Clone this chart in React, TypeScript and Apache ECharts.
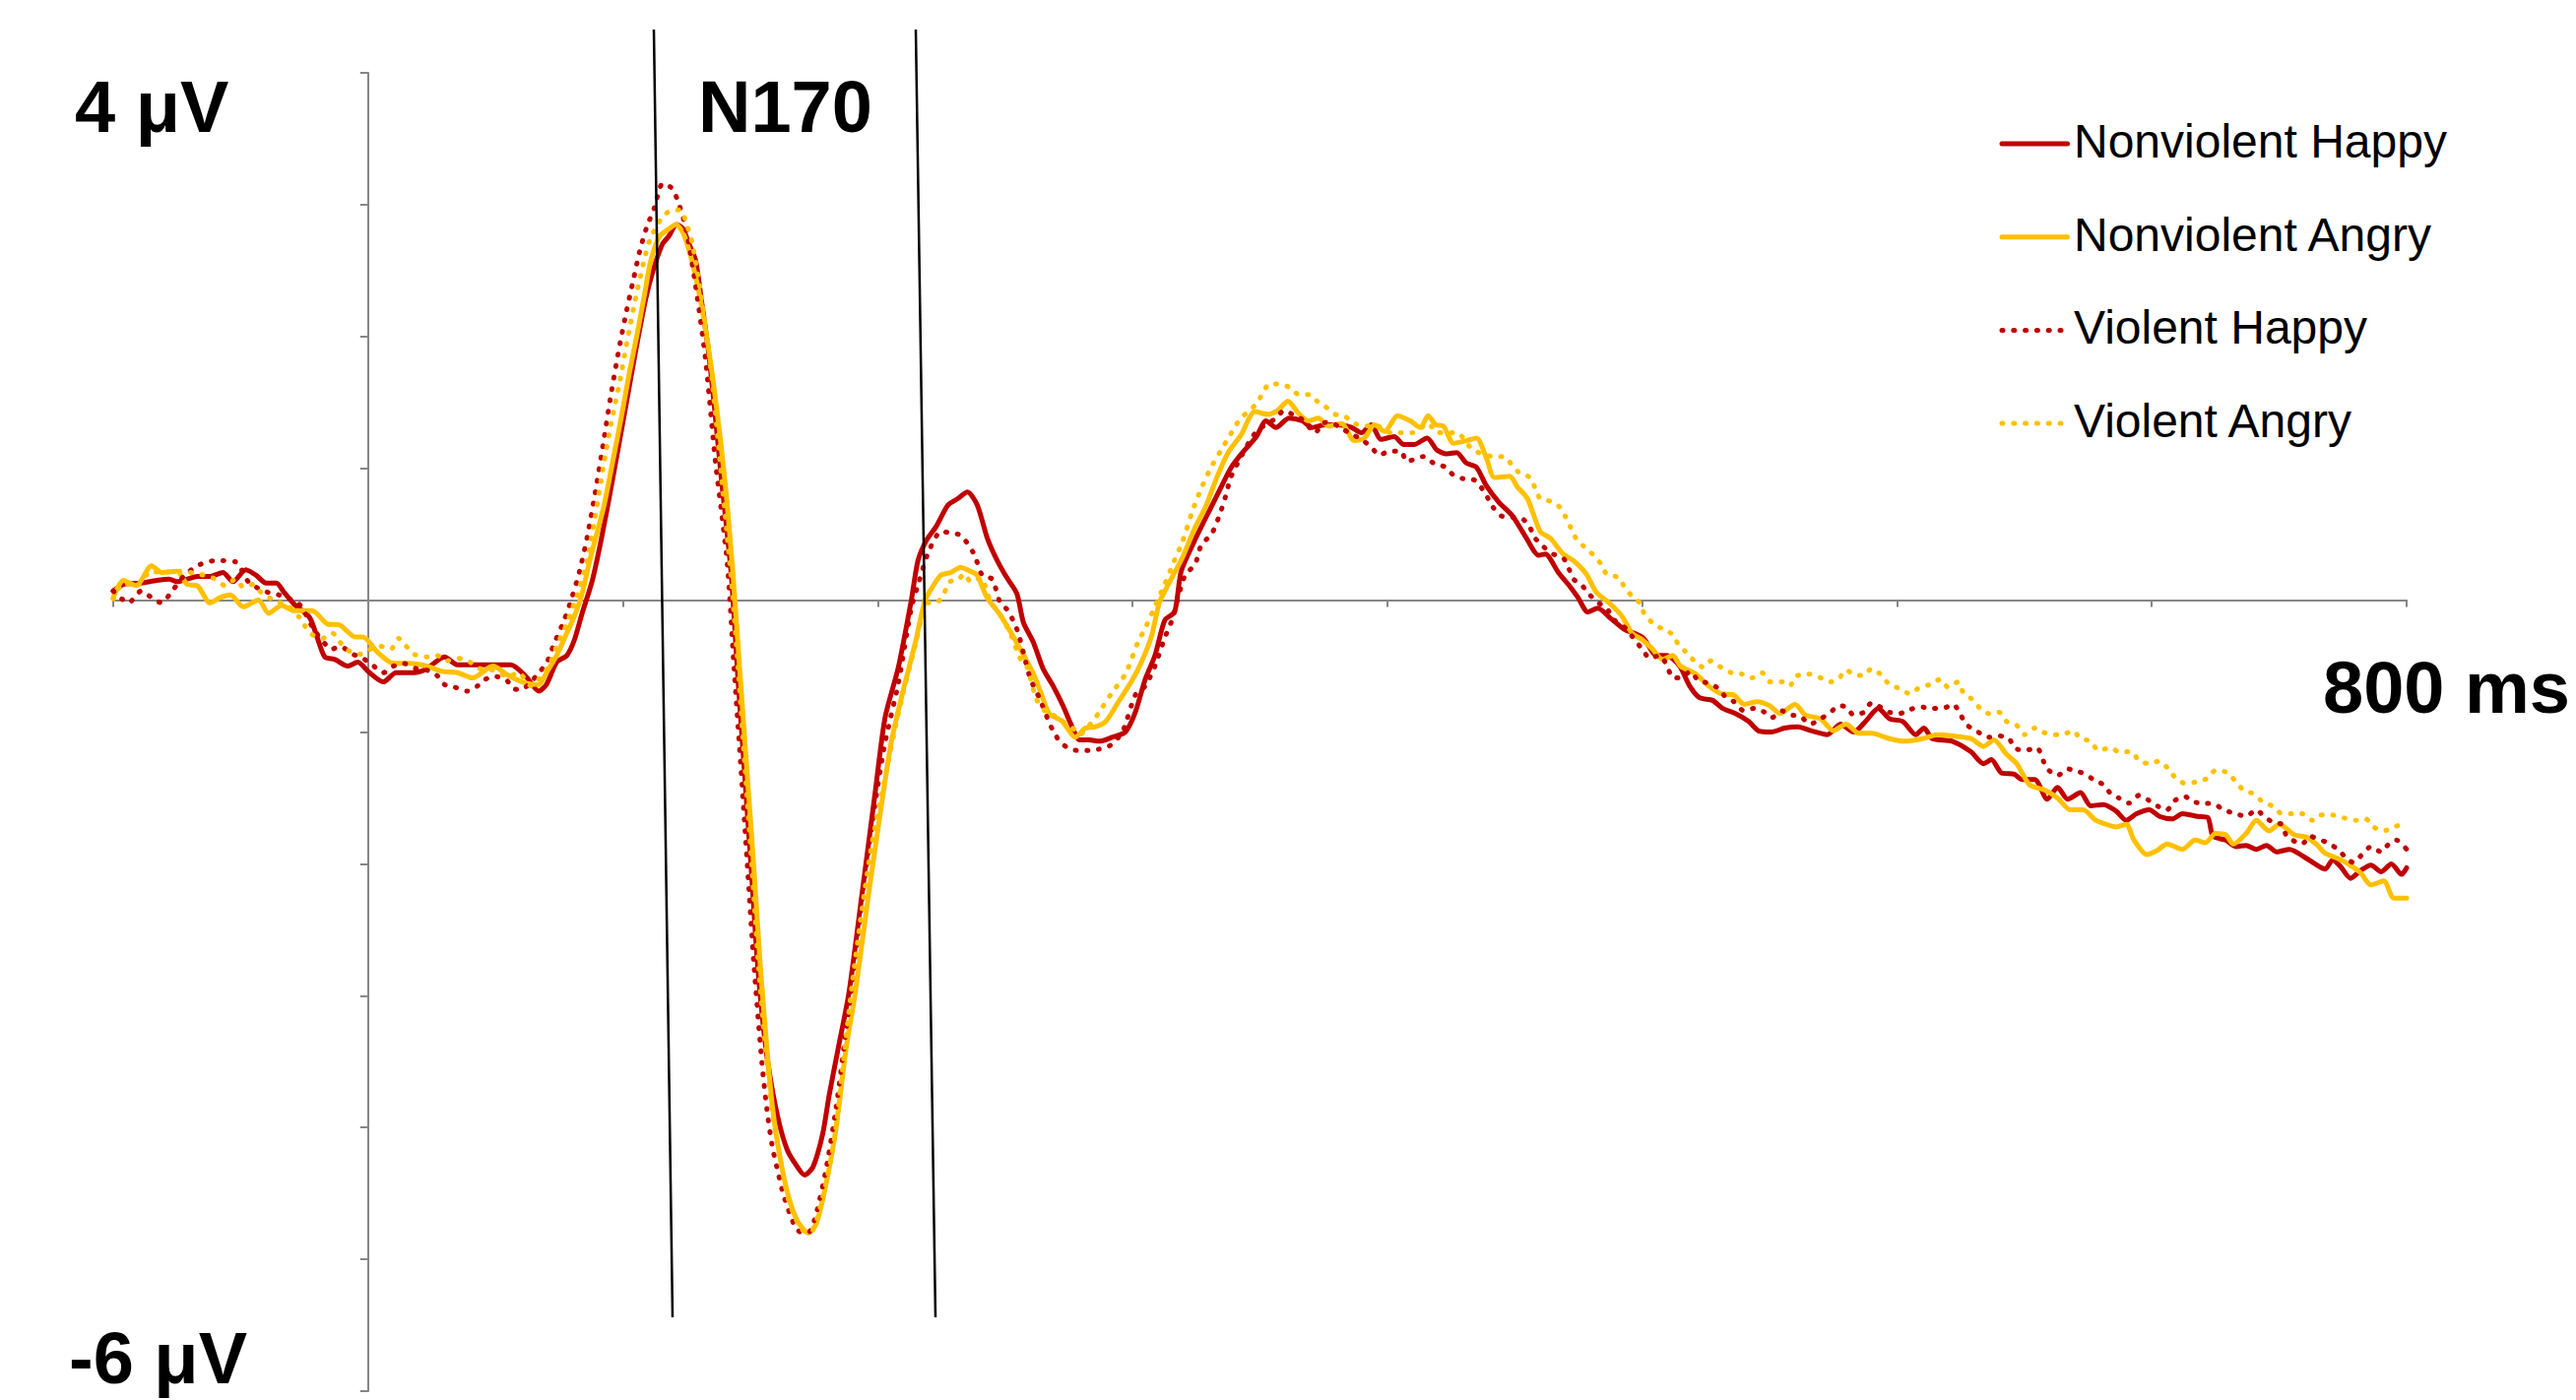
import React, { useEffect, useRef } from "react";
import * as echarts from "echarts";

// ---- data: [time (ms), amplitude (µV)] ----
const nonviolentHappy: [number, number][] = [
  [-100,0.07],[-96,0.12],[-89,0.13],[-83,0.15],[-78,0.16],[-75,0.14],[-71,0.16],[-67,0.18],[-62,0.18],[-57,0.21],[-53,0.14],[-48,0.23],[-44,0.19],[-40,0.13],[-36,0.13],[-33,0.06],[-29,-0.03],[-23,-0.13],[-20,-0.28],[-17,-0.43],[-13,-0.45],[-8,-0.5],[-4,-0.47],[0,-0.54],[6,-0.62],[11,-0.55],[18,-0.55],[23,-0.52],[30,-0.43],[35,-0.49],[42,-0.49],[49,-0.49],[56,-0.49],[62,-0.58],[67,-0.69],[70,-0.64],[74,-0.47],[78,-0.42],[81,-0.3],[84,-0.1],[88,0.15],[91.5,0.46],[96,0.92],[101.5,1.51],[105,1.89],[109,2.29],[112,2.51],[115.5,2.7],[118,2.76],[121,2.85],[123.5,2.82],[126,2.7],[128.5,2.58],[131,2.25],[133.5,1.9],[136,1.45],[138.5,0.95],[142.5,0.2],[145,-0.55],[147.7,-1.3],[150.4,-2.05],[153,-2.8],[155.8,-3.35],[158.5,-3.7],[161.5,-3.98],[164.5,-4.17],[167.5,-4.27],[171.3,-4.36],[174.6,-4.3],[178.4,-4.05],[181,-3.75],[184.5,-3.4],[188.7,-2.98],[193.9,-2.22],[199,-1.46],[202.9,-0.89],[208.1,-0.51],[213.2,0],[215.8,0.3],[219,0.45],[223,0.56],[227.5,0.72],[231.4,0.77],[235.2,0.82],[239.1,0.72],[243,0.47],[246.9,0.3],[250.7,0.17],[254.6,0.05],[257.2,-0.17],[261.1,-0.32],[264.9,-0.52],[268.8,-0.65],[272.7,-0.8],[276.5,-0.97],[279.1,-1.06],[283,-1.06],[286.9,-1.07],[292,-1.04],[297.2,-1.0],[301.1,-0.85],[305,-0.6],[308.8,-0.42],[312.7,-0.15],[316.5,-0.09],[319.1,0.22],[324.3,0.45],[328.1,0.6],[333.3,0.8],[338.5,1.0],[342.3,1.1],[348.6,1.24],[352.4,1.36],[356.3,1.31],[361.4,1.38],[366.6,1.36],[370.5,1.31],[375.6,1.33],[380.8,1.33],[385.9,1.31],[389.8,1.27],[393.7,1.33],[397.5,1.22],[402.7,1.24],[406.5,1.18],[410.4,1.18],[415.6,1.23],[419.4,1.14],[423.3,1.11],[427.2,1.12],[431,1.04],[434.9,1.01],[438.8,0.87],[443.9,0.74],[449.1,0.64],[454.3,0.48],[459.4,0.34],[462,0.35],[467.1,0.21],[471,0.12],[474.8,0.02],[478.7,-0.09],[482.6,-0.06],[487.7,-0.14],[492.9,-0.22],[496.7,-0.25],[500.6,-0.29],[505.7,-0.42],[509.6,-0.42],[514.7,-0.5],[518.6,-0.65],[522.5,-0.74],[527.6,-0.76],[531.5,-0.82],[536.6,-0.86],[541.8,-0.92],[545.6,-0.99],[550.8,-1.0],[555.9,-0.97],[561.1,-0.96],[566.2,-0.99],[572.7,-1.02],[577.8,-0.94],[583,-1.0],[588.1,-0.91],[592.6,-0.82],[597.1,-0.9],[602.3,-0.92],[607.4,-1.02],[610.6,-0.97],[613.8,-1.05],[621.6,-1.07],[629,-1.15],[634,-1.24],[637,-1.21],[641,-1.31],[646,-1.32],[649,-1.36],[654,-1.36],[659,-1.51],[663,-1.42],[667,-1.51],[672,-1.46],[676,-1.56],[681,-1.55],[686,-1.6],[690,-1.67],[694,-1.62],[699,-1.59],[703,-1.64],[708,-1.66],[712,-1.62],[718,-1.64],[722,-1.65],[724,-1.79],[729,-1.82],[733,-1.87],[737,-1.86],[741,-1.89],[745,-1.86],[749,-1.91],[754,-1.89],[760,-1.95],[764,-2.0],[768,-2.04],[771,-1.97],[774,-2.02],[778,-2.11],[782,-2.05],[786,-2.01],[790,-2.06],[794,-2.0],[798,-2.08],[800,-2.03]
];

const nonviolentAngry: [number, number][] = [
  [-100,0.02],[-96,0.15],[-91,0.11],[-85,0.26],[-81,0.21],[-75,0.22],[-71,0.12],[-67,0.11],[-62,-0.02],[-58,0.02],[-54,0.04],[-49,-0.05],[-43,0.0],[-39,-0.1],[-34,-0.04],[-29,-0.08],[-22,-0.08],[-16,-0.18],[-11,-0.19],[-5,-0.28],[-2,-0.28],[4,-0.4],[10,-0.48],[16,-0.48],[23,-0.5],[29,-0.54],[35,-0.55],[41,-0.59],[49,-0.5],[55,-0.57],[62,-0.63],[67,-0.64],[70,-0.55],[74,-0.42],[78,-0.25],[81,-0.12],[84,0.05],[87,0.3],[92.5,0.71],[96,1.05],[99.4,1.39],[102.5,1.72],[105.8,2.04],[108.5,2.32],[110.9,2.57],[114.4,2.76],[118.3,2.82],[120.8,2.85],[124,2.77],[127.9,2.51],[131.7,2.14],[135.6,1.64],[139.8,0.95],[143,0.25],[145.8,-0.51],[148.6,-1.27],[151.4,-2.03],[154,-2.79],[156.4,-3.37],[158.8,-3.86],[161.8,-4.24],[164.8,-4.51],[168.5,-4.71],[172.8,-4.8],[175.9,-4.73],[179.7,-4.43],[183.6,-4.01],[187.6,-3.4],[191.2,-2.98],[196.5,-2.22],[202.2,-1.46],[205.3,-1.08],[209.8,-0.7],[214.8,-0.32],[218.6,0],[221.5,0.1],[224.8,0.19],[228.7,0.21],[232.5,0.25],[236.4,0.22],[239,0.19],[242.9,0.02],[248,-0.11],[254.5,-0.32],[260.9,-0.55],[264,-0.7],[267.3,-0.86],[272.5,-0.92],[277.5,-1.04],[281.5,-0.97],[285.5,-0.96],[289.5,-0.92],[294.5,-0.77],[299.5,-0.62],[303.5,-0.47],[307.5,-0.27],[310.5,-0.02],[313.5,0.1],[319.5,0.32],[324.5,0.55],[328.5,0.7],[333.5,0.95],[337.5,1.12],[342.5,1.25],[348,1.43],[353,1.41],[357,1.44],[361,1.51],[365,1.42],[369,1.36],[373,1.38],[377,1.32],[382,1.34],[387,1.21],[391,1.23],[395,1.33],[399,1.28],[404,1.4],[409,1.36],[413,1.31],[416,1.4],[419,1.33],[422,1.32],[426,1.19],[431,1.21],[435,1.23],[439,1.07],[442,0.93],[448,0.94],[451,0.86],[455,0.77],[460,0.52],[464,0.47],[469,0.35],[473,0.3],[478,0.2],[482,0.06],[487,-0.02],[492,-0.12],[496,-0.25],[500,-0.3],[504,-0.37],[508,-0.45],[512,-0.42],[515,-0.5],[521,-0.56],[526,-0.65],[531,-0.71],[536,-0.72],[540,-0.79],[545,-0.77],[550,-0.8],[554,-0.86],[560,-0.79],[564,-0.87],[570,-0.9],[575,-0.99],[580,-0.94],[585,-1.01],[590,-1.01],[597,-1.05],[603,-1.07],[610,-1.05],[616,-1.02],[622,-1.03],[629,-1.05],[634,-1.11],[638,-1.06],[643,-1.17],[647,-1.24],[652,-1.4],[658,-1.44],[663,-1.5],[668,-1.59],[673,-1.59],[678,-1.67],[682,-1.7],[686,-1.72],[690,-1.7],[693,-1.82],[698,-1.93],[702,-1.9],[706,-1.85],[712,-1.89],[717,-1.82],[721,-1.84],[725,-1.77],[729,-1.78],[732,-1.85],[737,-1.77],[741,-1.67],[746,-1.75],[750,-1.7],[756,-1.78],[761,-1.8],[765,-1.86],[768,-1.92],[773,-1.96],[777,-2.0],[782,-2.07],[786,-2.16],[791,-2.13],[795,-2.26],[800,-2.26]
];

const violentHappy: [number, number][] = [
  [-100,0.07],[-94,-0.02],[-89,0.07],[-85,0.02],[-81,-0.02],[-78,0.04],[-72,0.19],[-66,0.27],[-60,0.3],[-52,0.29],[-47,0.14],[-41,0.07],[-35,0.04],[-27,-0.03],[-21,-0.23],[-14,-0.37],[-11,-0.35],[-6,-0.41],[-3,-0.43],[1,-0.48],[6,-0.55],[10,-0.5],[14,-0.48],[19,-0.52],[23,-0.53],[27,-0.57],[30,-0.64],[34,-0.66],[39,-0.69],[43,-0.65],[46,-0.6],[50,-0.58],[54,-0.6],[57,-0.67],[60,-0.68],[64,-0.62],[67,-0.55],[70,-0.48],[73,-0.33],[77,-0.15],[80,0.02],[83,0.22],[86,0.48],[89,0.8],[92.4,1.2],[95.5,1.58],[98.9,1.95],[101.5,2.2],[104,2.42],[106.5,2.64],[109.2,2.82],[112.4,2.98],[115.6,3.16],[118.9,3.13],[121.4,3.04],[124.7,2.82],[128.5,2.39],[132.4,1.83],[136.3,1.05],[138.5,0.7],[141.1,0.25],[143.6,-0.51],[146.2,-1.24],[148.8,-2.0],[151.4,-2.76],[154.6,-3.52],[156.5,-3.86],[158.5,-4.13],[161,-4.35],[163,-4.51],[165.6,-4.66],[168.1,-4.77],[170.7,-4.8],[173.3,-4.79],[175.8,-4.66],[179.7,-4.32],[183.6,-3.86],[187.4,-3.29],[191.3,-2.68],[195.2,-2.07],[199,-1.54],[202.9,-1.08],[208.1,-0.63],[213.2,-0.06],[215.9,0.12],[219.8,0.36],[224.9,0.52],[228.8,0.51],[232.7,0.49],[237.8,0.35],[241,0.19],[244.9,0.16],[248.1,-0.02],[250.7,-0.07],[253.3,-0.16],[255.2,-0.25],[257.2,-0.4],[259.8,-0.59],[263.6,-0.75],[266.9,-0.91],[268.8,-0.99],[271.4,-1.07],[274.6,-1.12],[278.5,-1.14],[283,-1.14],[286.9,-1.13],[291.4,-1.1],[296,-1.0],[301.1,-0.72],[305,-0.65],[308.8,-0.5],[312,-0.32],[314,-0.22],[315.5,-0.15],[320.6,0.19],[324.5,0.27],[327,0.42],[331,0.5],[334.4,0.66],[337,0.82],[338.3,0.92],[342.1,1.07],[346.1,1.21],[349.2,1.29],[356.3,1.38],[359.5,1.44],[362.7,1.41],[366.6,1.37],[371.8,1.27],[374.3,1.34],[377.6,1.35],[381.4,1.31],[385.9,1.26],[389.8,1.22],[393.7,1.16],[396.9,1.1],[400.7,1.13],[405.3,1.13],[407.6,1.05],[410.7,1.07],[414.3,1.09],[418.1,1.04],[422.7,1.01],[425.9,0.95],[430,0.92],[434.3,0.91],[438.1,0.82],[441.3,0.71],[444.6,0.64],[449,0.63],[452.9,0.62],[456,0.55],[458,0.47],[461,0.41],[465,0.35],[469,0.32],[471,0.25],[473,0.16],[476,0.12],[479,0.05],[482,-0.01],[486,-0.06],[489,-0.15],[494,-0.22],[497,-0.3],[500,-0.37],[503,-0.44],[507,-0.42],[510,-0.51],[512,-0.59],[515,-0.59],[519,-0.54],[522,-0.61],[526,-0.63],[530,-0.67],[533,-0.74],[536,-0.77],[540,-0.84],[544,-0.82],[548,-0.85],[551,-0.89],[555,-0.84],[558,-0.87],[562,-0.88],[566,-0.94],[570,-0.9],[574,-0.85],[577,-0.8],[580,-0.81],[583,-0.87],[587,-0.85],[590,-0.78],[597,-0.85],[601,-0.86],[605,-0.83],[609,-0.81],[614,-0.82],[618,-0.82],[622,-0.79],[625,-0.87],[627,-0.94],[631,-0.99],[636,-1.04],[640,-1.03],[644,-1.05],[646,-1.12],[650,-1.14],[655,-1.12],[657,-1.2],[659,-1.28],[663,-1.33],[667,-1.28],[671,-1.3],[674,-1.32],[677,-1.36],[681,-1.4],[684,-1.47],[687,-1.5],[691,-1.54],[695,-1.48],[699,-1.52],[703,-1.57],[706,-1.59],[709,-1.52],[713,-1.49],[716,-1.53],[721,-1.54],[725,-1.55],[728,-1.59],[733,-1.62],[737,-1.64],[741,-1.59],[744,-1.64],[748,-1.69],[751,-1.7],[753,-1.79],[759,-1.85],[762,-1.79],[765,-1.81],[769,-1.84],[773,-1.89],[776,-1.95],[779,-1.99],[783,-1.92],[786,-1.87],[790,-1.91],[793,-1.85],[796,-1.82],[800,-1.89]
];

const violentAngry: [number, number][] = [
  [-100,0.01],[-96,0.13],[-91,0.11],[-85,0.22],[-81,0.21],[-74,0.22],[-67,0.2],[-61,0.17],[-56,0.11],[-52,0.16],[-49,0.1],[-45,0.12],[-42,0.06],[-38,0.01],[-31,-0.05],[-27,-0.13],[-25,-0.19],[-22,-0.26],[-18,-0.29],[-14,-0.25],[-11,-0.32],[-8,-0.38],[-3,-0.41],[0,-0.38],[5,-0.35],[9,-0.37],[12,-0.29],[15,-0.35],[18,-0.41],[23,-0.43],[27,-0.42],[31,-0.46],[35,-0.44],[40,-0.47],[44,-0.52],[49,-0.53],[55,-0.58],[59,-0.55],[64,-0.65],[67,-0.6],[71,-0.5],[74,-0.35],[78,-0.18],[80,-0.07],[82,0.03],[86,0.3],[89,0.62],[92.4,1.02],[95.5,1.35],[98.9,1.67],[102,2.0],[105.3,2.32],[108,2.55],[110.5,2.73],[114.9,2.89],[118.2,2.95],[122.6,2.96],[124.7,2.87],[127.3,2.7],[131.1,2.26],[135,1.67],[138.9,0.89],[142.8,0.1],[145.5,-0.6],[148,-1.3],[150.7,-2.05],[153.3,-2.8],[156,-3.4],[158.6,-3.88],[161.8,-4.25],[165,-4.55],[168.5,-4.72],[171.5,-4.79],[174.5,-4.78],[177.5,-4.6],[180,-4.4],[183,-4.09],[186.2,-3.56],[190,-2.91],[193.9,-2.34],[197.8,-1.84],[202.9,-1.35],[208.1,-0.86],[214.5,-0.36],[219.8,-0.02],[223,-0.02],[226.2,0.06],[228.1,0.14],[231.3,0.15],[234,0.2],[236.5,0.14],[240.4,0.17],[244.3,-0.01],[248.1,-0.11],[252,-0.25],[255.9,-0.44],[258.5,-0.5],[262.3,-0.75],[265.6,-0.84],[268.8,-0.87],[272.7,-0.92],[276.5,-0.97],[279.1,-1.02],[284.3,-0.92],[286.9,-0.85],[292,-0.7],[297.2,-0.56],[302.3,-0.31],[304.8,-0.22],[308.7,-0.05],[312.6,0.12],[316.4,0.3],[319.5,0.44],[323.4,0.67],[326.8,0.84],[330.6,1.0],[334.5,1.13],[337.6,1.23],[342.1,1.37],[348.6,1.49],[351.1,1.57],[353.7,1.64],[358.2,1.64],[361.8,1.61],[365.3,1.56],[369.2,1.56],[372.4,1.51],[375.6,1.47],[379.5,1.41],[383.6,1.39],[387.2,1.34],[391.1,1.32],[394.9,1.33],[401.4,1.27],[405.3,1.27],[409.8,1.27],[416.2,1.34],[419.4,1.27],[427.2,1.27],[433.6,1.14],[442,1.09],[445.8,1.09],[449.1,1.02],[451.6,0.97],[456,0.93],[458,0.85],[460,0.77],[464,0.75],[468,0.7],[470,0.63],[472,0.55],[474,0.47],[477,0.41],[481,0.34],[484,0.27],[486,0.2],[491,0.17],[493,0.1],[496,0.03],[499,-0.02],[501,-0.11],[504,-0.17],[508,-0.22],[512,-0.26],[514,-0.33],[517,-0.39],[521,-0.47],[524,-0.51],[527,-0.46],[531,-0.51],[535,-0.55],[539,-0.56],[543,-0.59],[547,-0.55],[550,-0.62],[555,-0.62],[558,-0.65],[560,-0.58],[565,-0.56],[569,-0.58],[574,-0.62],[577,-0.6],[580,-0.53],[584,-0.57],[587,-0.57],[590,-0.52],[594,-0.57],[597,-0.64],[601,-0.67],[605,-0.71],[609,-0.66],[613,-0.64],[617,-0.6],[620,-0.66],[624,-0.62],[626,-0.7],[630,-0.76],[633,-0.83],[636,-0.86],[640,-0.85],[643,-0.92],[647,-0.95],[650,-1.02],[654,-0.97],[657,-1.0],[661,-1.02],[665,-1.02],[669,-0.99],[672,-1.05],[676,-1.07],[679,-1.14],[684,-1.12],[687,-1.15],[692,-1.15],[695,-1.22],[699,-1.24],[703,-1.22],[706,-1.27],[709,-1.34],[713,-1.39],[717,-1.38],[722,-1.35],[725,-1.29],[730,-1.31],[733,-1.38],[736,-1.44],[740,-1.47],[743,-1.52],[748,-1.57],[751,-1.62],[755,-1.62],[759,-1.62],[763,-1.67],[766,-1.63],[771,-1.63],[775,-1.65],[780,-1.67],[784,-1.66],[787,-1.72],[791,-1.75],[795,-1.72],[800,-1.69]
];

const seriesNames = ["Nonviolent Happy", "Nonviolent Angry", "Violent Happy", "Violent Angry"];
const xRange = [-100, 800];
const xStep = 100;
const yRange = [-6, 4];
const yStep = 1;
const cornerLabels = ["4 μV", "-6 μV", "800 ms", "N170"];

const RED = "#C00000";
const YELLOW = "#FFC000";
const AXIS = "#868686";
const DOT: number[] = [1, 10.8];

export default function App() {
  const ref = useRef<HTMLDivElement>(null);

  useEffect(() => {
    if (!ref.current) return;
    const chart = echarts.init(ref.current, null, { renderer: "svg" });

    const styles = [
      { color: RED, dash: "solid" as any },
      { color: YELLOW, dash: "solid" as any },
      { color: RED, dash: DOT },
      { color: YELLOW, dash: DOT },
    ];
    const datasets = [nonviolentHappy, nonviolentAngry, violentHappy, violentAngry];

    const series = datasets.map((d, i) => ({
      name: seriesNames[i],
      type: "line",
      data: d,
      showSymbol: false,
      symbol: "none",
      smooth: 0.25,
      lineStyle: {
        color: styles[i].color,
        width: 5,
        type: styles[i].dash,
        cap: "round",
        join: "round",
      },
      z: 2 + i,
    }));

    const bigFont = { fontFamily: "Liberation Sans", fontWeight: "bold", fontSize: 74 };
    const textEl = (text: string, x: number, y: number, f: any) => ({
      type: "text",
      x,
      y,
      z: 20,
      style: {
        text,
        fill: "#000",
        ...f,
        align: "left",
        verticalAlign: "middle",
        textAlign: "left",
        textVerticalAlign: "middle",
      },
    });

    const legendFont = { fontFamily: "Liberation Sans", fontWeight: "normal", fontSize: 48 };
    const legendEls: any[] = [];
    seriesNames.forEach((n, i) => {
      const yLine = 146 + i * 94.7;
      const dotted = i >= 2;
      legendEls.push({
        type: "line",
        z: 20,
        shape: { x1: 2033, y1: yLine, x2: dotted ? 2094 : 2099.5, y2: yLine },
        style: {
          stroke: styles[i].color,
          lineWidth: 5,
          lineCap: "round",
          lineDash: dotted ? DOT : null,
        },
      });
      legendEls.push(textEl(n, 2106, yLine - 2.5, legendFont));
    });

    chart.setOption({
      animation: false,
      backgroundColor: "#ffffff",
      grid: { left: 115, right: 172, top: 74, bottom: 9, containLabel: false },
      xAxis: {
        type: "value",
        min: xRange[0],
        max: xRange[1],
        interval: xStep,
        axisLine: { show: true, onZero: true, lineStyle: { color: AXIS, width: 2 } },
        axisTick: { show: true, length: 7, lineStyle: { color: AXIS, width: 2 } },
        axisLabel: { show: false },
        splitLine: { show: false },
      },
      yAxis: {
        type: "value",
        min: yRange[0],
        max: yRange[1],
        interval: yStep,
        axisLine: { show: true, onZero: true, lineStyle: { color: AXIS, width: 2 } },
        axisTick: { show: true, length: 8, lineStyle: { color: AXIS, width: 2 } },
        axisLabel: { show: false },
        splitLine: { show: false },
      },
      series,
      graphic: [
        { type: "line", z: 15, shape: { x1: 664, y1: 30, x2: 683, y2: 1338 }, style: { stroke: "#000", lineWidth: 2.5 } },
        { type: "line", z: 15, shape: { x1: 930, y1: 30, x2: 950, y2: 1338 }, style: { stroke: "#000", lineWidth: 2.5 } },
        textEl(cornerLabels[0], 76, 108, bigFont),
        textEl(cornerLabels[1], 70, 1379, bigFont),
        textEl(cornerLabels[2], 2359, 698, bigFont),
        textEl(cornerLabels[3], 709, 108, bigFont),
        ...legendEls,
      ],
    });

    return () => chart.dispose();
  }, []);

  return (
    <div
      ref={ref}
      style={{ position: "fixed", left: 0, top: 0, width: 2616, height: 1422, background: "#fff" }}
    />
  );
}
